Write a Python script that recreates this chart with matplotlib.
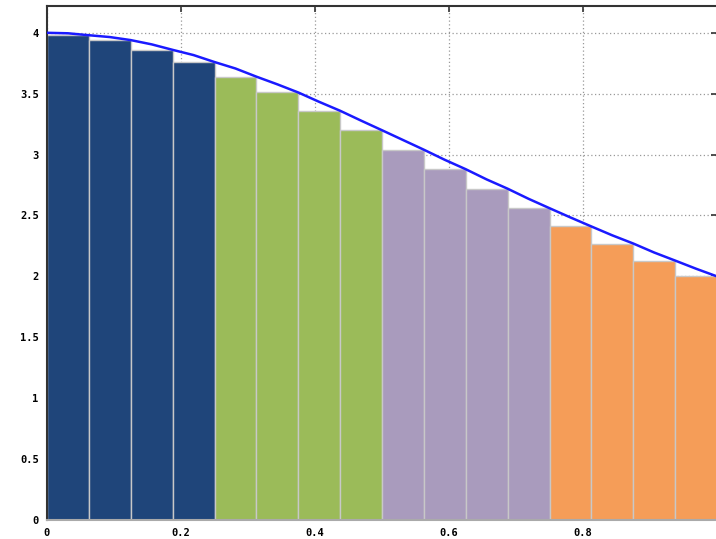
import numpy as np
import matplotlib.pyplot as plt

# bar left edges and heights (16 strips)
bar_left = [0.0, 0.0625, 0.125, 0.1875, 0.25, 0.3125, 0.375, 0.4375,
            0.5, 0.5625, 0.625, 0.6875, 0.75, 0.8125, 0.875, 0.9375]
bar_height = [3.98, 3.94, 3.86, 3.76, 3.64, 3.51, 3.36, 3.20,
              3.04, 2.88, 2.72, 2.56, 2.41, 2.27, 2.13, 2.00]
bar_group = [0] * 4 + [1] * 4 + [2] * 4 + [3] * 4
group_colors = ['#1f457a', '#9bbb59', '#a99bbd', '#f59d58']

# curve
curve_x = [0.0, 0.03125, 0.0625, 0.09375, 0.125, 0.15625, 0.1875, 0.21875,
           0.25, 0.28125, 0.3125, 0.34375, 0.375, 0.40625, 0.4375, 0.46875,
           0.5, 0.53125, 0.5625, 0.59375, 0.625, 0.65625, 0.6875, 0.71875,
           0.75, 0.78125, 0.8125, 0.84375, 0.875, 0.90625, 0.9375, 0.96875, 1.0]
curve_y = [4.00, 3.996, 3.98, 3.965, 3.94, 3.905, 3.86, 3.817,
           3.76, 3.707, 3.64, 3.577, 3.51, 3.433, 3.36, 3.279,
           3.20, 3.12, 3.04, 2.957, 2.88, 2.796, 2.72, 2.637,
           2.56, 2.484, 2.41, 2.337, 2.27, 2.196, 2.13, 2.063, 2.00]

xticks = [0, 0.2, 0.4, 0.6, 0.8]
xticklabels = ['0', '0.2', '0.4', '0.6', '0.8']
yticks = [0, 0.5, 1, 1.5, 2, 2.5, 3, 3.5, 4]
yticklabels = ['0', '0.5', '1', '1.5', '2', '2.5', '3', '3.5', '4']

W, H = 716, 539
fig = plt.figure(figsize=(W / 100, H / 100), dpi=100)
ax = fig.add_axes([47 / W, 19 / H, 670 / W, 514 / H])

colors = [group_colors[g] for g in bar_group]
ax.bar(bar_left, bar_height, width=0.0625, align='edge', color=colors,
       edgecolor='#c8c8c8', linewidth=1, zorder=2)
ax.plot(curve_x, curve_y, color='#1a1aff', linewidth=1.8, zorder=3)

ax.set_xlim(0, 1)
ax.set_ylim(0, 4.22)
ax.set_xticks(xticks)
ax.set_xticklabels(xticklabels)
ax.set_yticks(yticks)
ax.set_yticklabels(yticklabels)
ax.grid(True, linestyle=(0, (1, 2)), color='#999999', linewidth=0.9, zorder=0)
ax.set_axisbelow(True)

ax.tick_params(direction='in', length=4, width=1.2, color='#333333',
               top=True, right=True, pad=6)
for lab in ax.get_xticklabels() + ax.get_yticklabels():
    lab.set_fontfamily('DejaVu Sans Mono')
    lab.set_fontweight('bold')
    lab.set_fontsize(7.5)

for side in ['left', 'top']:
    ax.spines[side].set_color('#333333')
    ax.spines[side].set_linewidth(1.5)
ax.spines['bottom'].set_color('#aaaaaa')
ax.spines['bottom'].set_linewidth(1.5)
ax.spines['right'].set_visible(False)

fig.savefig('out.png', dpi=100)
